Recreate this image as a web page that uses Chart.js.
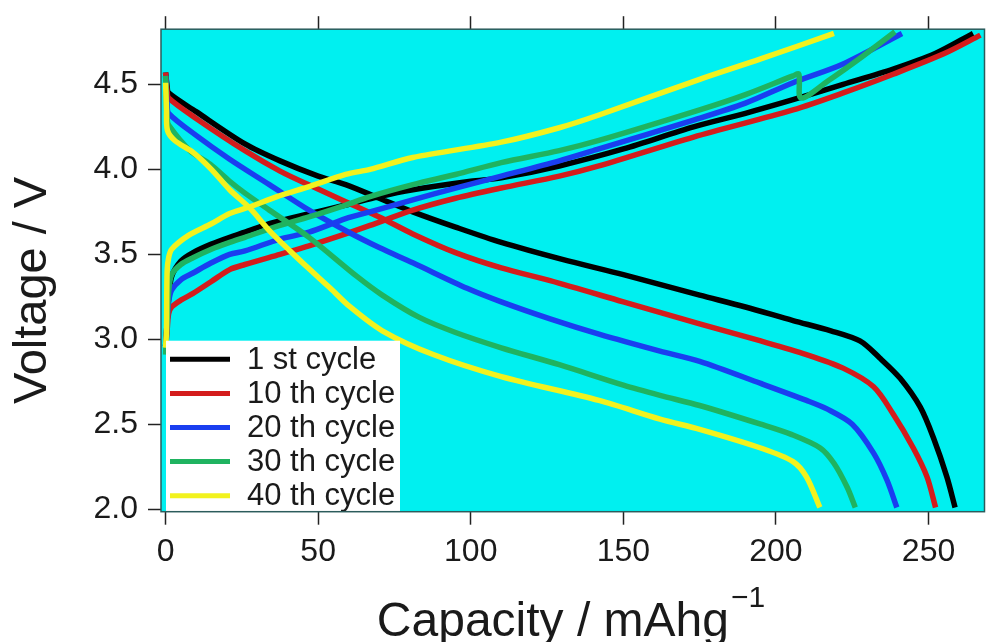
<!DOCTYPE html>
<html>
<head>
<meta charset="utf-8">
<script src="https://cdn.jsdelivr.net/npm/chart.js@4/dist/chart.umd.min.js"></script>
<style>
  html, body { margin: 0; padding: 0; background: #fff; }
  #wrap { width: 986px; height: 642px; position: relative; }
</style>
</head>
<body>
<div id="wrap"><canvas id="grafica"></canvas></div>
<script>
// Etiquetas de la leyenda
const cycles = ['1 st cycle', '10 th cycle', '20 th cycle', '30 th cycle', '40 th cycle'];
const cycleColors = ['#000000', '#d41c1c', '#1a3ef0', '#1fb360', '#f2f21e'];

// Ticks de los ejes
const xTicks = [0, 50, 100, 150, 200, 250];
const yTicks = [2.0, 2.5, 3.0, 3.5, 4.0, 4.5];

// Curvas de carga [capacidad mAh/g, voltaje V]
const charge1 = [[0,2.96],[0.5,3.10],[1,3.24],[2,3.37],[5,3.46],[9,3.51],[15,3.56],[21,3.60],[26,3.63],[34,3.68],[45,3.73],[59,3.79],[70,3.84],[81,3.88],[100,3.93],[110,3.95],[129,4.02],[150,4.12],[173,4.25],[190,4.33],[205.6,4.41],[222,4.50],[238.4,4.59],[252,4.68],[264.6,4.80]];
const charge10 = [[0,2.95],[0.5,3.05],[1,3.15],[2,3.19],[5,3.23],[9,3.27],[15,3.34],[21,3.41],[26,3.44],[37.5,3.50],[47,3.55],[59,3.62],[67,3.67],[81,3.76],[95,3.83],[110,3.89],[129,3.96],[142,4.02],[173,4.19],[205.6,4.35],[222,4.45],[238.4,4.56],[255,4.68],[267,4.79]];
const charge20 = [[0,2.96],[0.5,3.10],[1,3.22],[2,3.29],[5,3.35],[9,3.39],[15,3.45],[21,3.50],[26,3.52],[37.5,3.59],[47,3.63],[59,3.71],[67,3.75],[81,3.82],[95,3.89],[110,3.96],[129,4.05],[142,4.12],[173,4.29],[190,4.39],[205.6,4.51],[222,4.62],[241.3,4.80]];
const charge30 = [[0,2.91],[0.5,3.10],[1,3.28],[2,3.38],[5,3.44],[9,3.48],[15,3.53],[21,3.57],[26,3.60],[37.5,3.67],[47,3.72],[59,3.79],[67,3.84],[81,3.91],[95,3.97],[110,4.04],[129,4.11],[142,4.17],[175,4.35],[190,4.44],[205.6,4.55],[207.5,4.56],[208.2,4.42],[217,4.52],[228,4.66],[239,4.81]];
const charge40 = [[0,2.95],[0.3,3.05],[0.5,3.40],[1,3.48],[2,3.53],[7.4,3.61],[15,3.68],[21,3.74],[27.7,3.78],[36.5,3.84],[47.3,3.90],[59,3.97],[67,4.00],[81,4.07],[110,4.16],[129,4.245],[142,4.32],[175,4.53],[195,4.65],[219,4.80]];

// Curvas de descarga [capacidad mAh/g, voltaje V]
const discharge1 = [[0,4.57],[0.5,4.49],[1,4.45],[10,4.34],[26,4.15],[37.5,4.05],[50,3.96],[59,3.91],[70,3.83],[81,3.75],[95,3.66],[110,3.57],[130,3.47],[150,3.38],[175,3.26],[190,3.19],[205.6,3.11],[218,3.05],[227.5,2.99],[234,2.89],[240.7,2.77],[247.3,2.60],[251.6,2.42],[256,2.19],[258.7,2.01]];
const discharge10 = [[0,4.57],[0.5,4.46],[1,4.42],[10,4.30],[26,4.11],[37.5,3.99],[48,3.90],[59,3.81],[70,3.72],[81,3.62],[95,3.51],[110,3.42],[126,3.345],[150,3.22],[175,3.09],[195,2.99],[210,2.91],[222,2.83],[232,2.72],[238.4,2.56],[245,2.36],[249.5,2.19],[252.3,2.01]];
const discharge20 = [[0,4.55],[0.5,4.38],[1,4.33],[10,4.20],[21,4.06],[34,3.91],[47,3.76],[60,3.63],[70,3.54],[81,3.45],[98.8,3.30],[110,3.22],[126,3.12],[142,3.03],[162,2.93],[175,2.87],[195,2.74],[210,2.64],[216.7,2.59],[225,2.50],[232,2.33],[236.4,2.17],[239.6,2.01]];
const discharge30 = [[0,4.55],[0.5,4.30],[1,4.26],[8,4.11],[14.6,4.03],[21,3.93],[26,3.86],[34,3.76],[47,3.60],[62.7,3.37],[71,3.26],[83,3.13],[95,3.04],[110,2.95],[129,2.85],[150,2.73],[162,2.67],[175,2.61],[195,2.50],[205,2.44],[214.5,2.36],[219,2.27],[223.3,2.13],[226,2.01]];
const discharge40 = [[0,4.51],[0.3,4.35],[0.6,4.23],[3,4.17],[9,4.10],[15,4.00],[21,3.88],[27.7,3.77],[34,3.64],[40.8,3.52],[47.3,3.41],[54,3.30],[60.5,3.19],[71,3.05],[87.7,2.91],[110,2.78],[142,2.64],[162,2.53],[175,2.47],[195,2.36],[205.6,2.28],[210,2.19],[214.4,2.01]];

const chargeCurves = [charge1, charge10, charge20, charge30, charge40];
const dischargeCurves = [discharge1, discharge10, discharge20, discharge30, discharge40];

const FONT = "'Liberation Sans', Arial, sans-serif";

// carga + hueco + descarga en un solo dataset por ciclo
function juntarCurvas(carga, descarga) {
    const pts = carga.map(p => ({ x: p[0], y: p[1] }));
    pts.push({ x: carga[carga.length - 1][0], y: null });
    return pts.concat(descarga.map(p => ({ x: p[0], y: p[1] })));
}

const fondoPlugin = {
    id: 'fondo',
    beforeDatasetsDraw(chart) {
        const { ctx, chartArea: a } = chart;
        ctx.save();
        ctx.fillStyle = '#00f0f0';
        ctx.fillRect(a.left, a.top, a.right - a.left, a.bottom - a.top);
        ctx.restore();
    },
    afterDatasetsDraw(chart) {
        const { ctx, chartArea: a } = chart;
        // leyenda dentro del área, abajo a la izquierda
        const x0 = a.left + 5, w = 234, h = 171, y0 = a.bottom - h;
        ctx.save();
        ctx.fillStyle = '#ffffff';
        ctx.fillRect(x0, y0, w, h);
        ctx.font = '31px ' + FONT;
        ctx.textBaseline = 'middle';
        ctx.textAlign = 'left';
        chart.data.datasets.forEach((ds, i) => {
            const cy = y0 + 18.6 + i * 34.1;
            ctx.strokeStyle = ds.borderColor;
            ctx.lineWidth = 5;
            ctx.beginPath();
            ctx.moveTo(x0 + 4, cy);
            ctx.lineTo(x0 + 64, cy);
            ctx.stroke();
            ctx.fillStyle = '#1a1a1a';
            ctx.fillText(ds.label, x0 + 81, cy + 1);
        });
        // marco
        ctx.strokeStyle = '#2c5c5c';
        ctx.lineWidth = 1.5;
        ctx.strokeRect(a.left, a.top, a.right - a.left - 0.5, a.bottom - a.top);
        ctx.restore();
    },
    afterDraw(chart) {
        const { ctx, chartArea: a } = chart;
        ctx.save();
        ctx.fillStyle = '#1a1a1a';
        // título eje Y
        ctx.font = '47px ' + FONT;
        ctx.textAlign = 'center';
        ctx.textBaseline = 'middle';
        ctx.translate(33, (a.top + a.bottom) / 2 + 20);
        ctx.rotate(-Math.PI / 2);
        ctx.fillText('Voltage / V', 0, 0);
        ctx.restore();

        // título eje X con superíndice
        ctx.save();
        ctx.fillStyle = '#1a1a1a';
        ctx.textAlign = 'left';
        ctx.textBaseline = 'alphabetic';
        const principal = 'Capacity / mAhg', sup = '\u22121';
        ctx.font = '48px ' + FONT;
        const w1 = ctx.measureText(principal).width;
        ctx.font = '30px ' + FONT;
        const w2 = ctx.measureText(sup).width;
        const inicio = (a.left + a.right) / 2 - 3 - (w1 + w2) / 2;
        ctx.font = '48px ' + FONT;
        ctx.fillText(principal, inicio, 636);
        ctx.font = '30px ' + FONT;
        ctx.fillText(sup, inicio + w1 + 2, 607);
        ctx.restore();
    }
};

const ejeTicks = (vals) => (axis) => { axis.ticks = vals.map(v => ({ value: v })); };

const ctx = document.getElementById('grafica').getContext('2d');
const miGrafica = new Chart(ctx, {
    type: 'line',
    data: {
        datasets: cycles.map((nombre, i) => ({
            label: nombre,
            data: juntarCurvas(chargeCurves[i], dischargeCurves[i]),
            borderColor: cycleColors[i],
            backgroundColor: cycleColors[i],
            borderWidth: 5.5,
            pointRadius: 0,
            tension: 0.3,
            spanGaps: false,
            fill: false,
            order: cycles.length - 1 - i
        }))
    },
    options: {
        responsive: true,
        maintainAspectRatio: false,
        animation: false,
        events: [],
        layout: { padding: { right: 1 } },
        plugins: { legend: { display: false }, tooltip: { enabled: false } },
        scales: {
            x: {
                type: 'linear',
                position: 'bottom',
                min: -1.5,
                max: 268.5,
                afterBuildTicks: ejeTicks(xTicks),
                afterFit: (s) => { s.height = 130.3; },
                border: { display: false },
                grid: { drawOnChartArea: false, tickLength: 13, tickColor: '#222', tickWidth: 1.5 },
                ticks: { font: { family: FONT, size: 32 }, color: '#1a1a1a', padding: 8, maxRotation: 0 }
            },
            xTop: {
                type: 'linear',
                position: 'top',
                min: -1.5,
                max: 268.5,
                afterBuildTicks: ejeTicks(xTicks),
                afterFit: (s) => { s.height = 25.7; },
                border: { display: false },
                grid: { drawOnChartArea: false, tickLength: 13, tickColor: '#222', tickWidth: 1.5 },
                ticks: { display: false }
            },
            y: {
                type: 'linear',
                min: 1.985,
                max: 4.825,
                afterBuildTicks: ejeTicks(yTicks),
                afterFit: (s) => { s.width = 161; },
                border: { display: false },
                grid: { drawOnChartArea: false, tickLength: 13, tickColor: '#222', tickWidth: 1.5 },
                ticks: {
                    font: { family: FONT, size: 32 }, color: '#1a1a1a', padding: 10,
                    callback: (v) => Number(v).toFixed(1)
                }
            }
        }
    },
    plugins: [fondoPlugin]
});
</script>
</body>
</html>
